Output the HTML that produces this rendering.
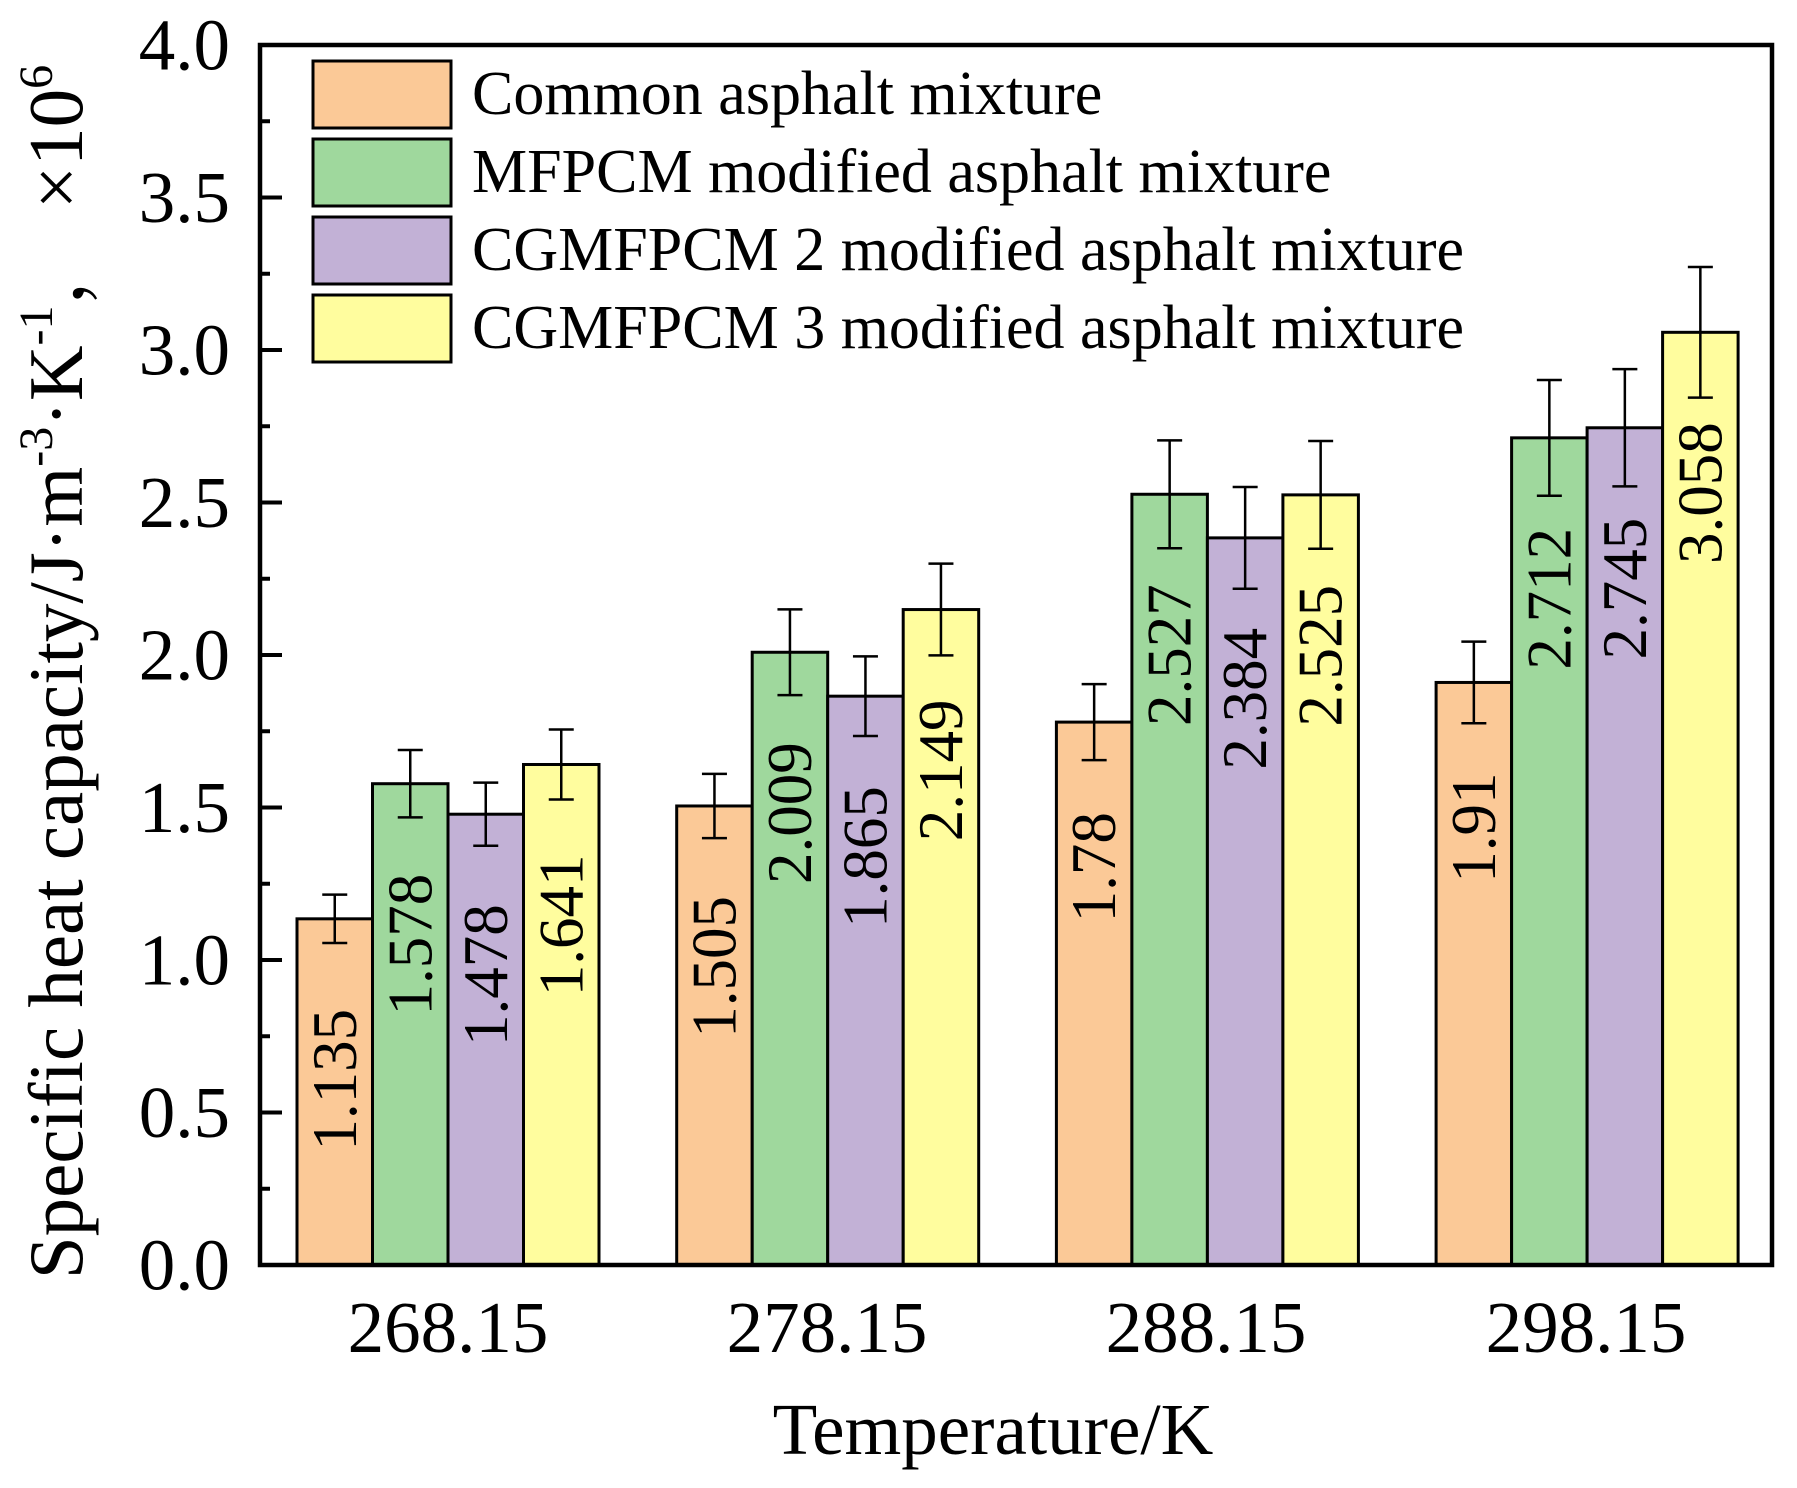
<!DOCTYPE html>
<html><head><meta charset="utf-8"><style>
html,body{margin:0;padding:0;background:#fff;}
svg{display:block;font-family:"Liberation Serif","Noto Serif CJK SC",serif;}
</style></head><body>
<svg id="s" width="1797" height="1488" viewBox="0 0 1797 1488" xmlns="http://www.w3.org/2000/svg">
<rect width="1797" height="1488" fill="#fff"/>
<g id="bars"></g>
<rect x="260" y="45" width="1512" height="1220" fill="none" stroke="#000" stroke-width="4.5"/>
<g id="ticks"></g>
<g font-size="62" dominant-baseline="central">
<rect x="313" y="61" width="138" height="67" fill="#FBC997" stroke="#000" stroke-width="3"/>
<text x="472" y="94">Common asphalt mixture</text>
<rect x="313" y="139" width="138" height="67" fill="#9FD89D" stroke="#000" stroke-width="3"/>
<text x="472" y="172">MFPCM modified asphalt mixture</text>
<rect x="313" y="217" width="138" height="67" fill="#C2B1D6" stroke="#000" stroke-width="3"/>
<text x="472" y="250">CGMFPCM 2 modified asphalt mixture</text>
<rect x="313" y="295" width="138" height="67" fill="#FFFD9E" stroke="#000" stroke-width="3"/>
<text x="472" y="328">CGMFPCM 3 modified asphalt mixture</text>
</g>
<g font-size="73" text-anchor="middle">
<text x="448" y="1352">268.15</text>
<text x="827" y="1352">278.15</text>
<text x="1206" y="1352">288.15</text>
<text x="1586" y="1352">298.15</text>
<text x="993" y="1454">Temperature/K</text>
</g>
<text transform="translate(82,672) rotate(-90)" font-size="77" text-anchor="middle">Specific heat capacity/J·m<tspan font-size="48" dy="-30">-3</tspan><tspan dy="30">·K</tspan><tspan font-size="48" dy="-30">-1</tspan><tspan dy="30">，  ×10</tspan><tspan font-size="48" dy="-30">6</tspan></text>
</svg>
<script>
var ns="http://www.w3.org/2000/svg";
function el(p,t,a,txt){var e=document.createElementNS(ns,t);for(var k in a)e.setAttribute(k,a[k]);if(txt)e.textContent=txt;p.appendChild(e);return e;}
var Y=function(v){return 1265-v*305;};
var cols=["#FBC997","#9FD89D","#C2B1D6","#FFFD9E"];
var vals=[[1.135,1.578,1.478,1.641],[1.505,2.009,1.865,2.149],[1.78,2.527,2.384,2.525],[1.91,2.712,2.745,3.058]];
var g=document.getElementById("bars");
for(var i=0;i<4;i++){for(var j=0;j<4;j++){
 var v=vals[i][j],x=297+i*379.7+j*75.5,w=75.5,y=Y(v);
 el(g,"rect",{x:x,y:y,width:w,height:1265-y,fill:cols[j],stroke:"#000","stroke-width":3});
 var cx=x+w/2,e=0.07*v;
 el(g,"line",{x1:cx,x2:cx,y1:Y(v+e),y2:Y(v-e),stroke:"#000","stroke-width":2.5});
 el(g,"line",{x1:cx-12.5,x2:cx+12.5,y1:Y(v+e),y2:Y(v+e),stroke:"#000","stroke-width":2.5});
 el(g,"line",{x1:cx-12.5,x2:cx+12.5,y1:Y(v-e),y2:Y(v-e),stroke:"#000","stroke-width":2.5});
 el(g,"text",{transform:"translate("+(cx)+","+(y+90)+") rotate(-90)","font-size":63,"text-anchor":"end","dominant-baseline":"central"},String(v));
}}
var t=document.getElementById("ticks");
for(var k=0;k<=16;k++){var v=k*0.25,y=Y(v),maj=k%2==0;
 el(t,"line",{x1:260,x2:maj?282:270,y1:y,y2:y,stroke:"#000","stroke-width":4});
 if(maj)el(t,"text",{x:230,y:y,"font-size":73,"text-anchor":"end","dominant-baseline":"central"},v.toFixed(1));
}
</script>
</body></html>
